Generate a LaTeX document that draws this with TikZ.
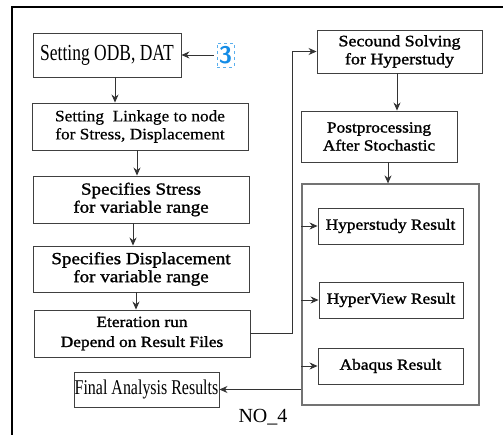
\documentclass[tikz,border=0pt]{standalone}
\usepackage{fontspec}
\setmainfont{Liberation Serif}
\newfontfamily\narrowfont[FakeStretch=0.76]{Liberation Serif}
\newfontfamily\widefont[FakeStretch=1.12,FakeBold=1.4]{Liberation Serif}
\newfontfamily\wideregfont[FakeStretch=1.08,FakeBold=0.5]{Liberation Serif}
\usetikzlibrary{arrows.meta}
\definecolor{tagblue}{RGB}{20,140,230}
\tikzset{
  box/.style={draw=black!75, line width=0.9pt, fill=white, align=center, inner sep=0pt},
  arr/.style={draw=black!80, line width=0.8pt, -{Stealth[length=8pt,width=7pt]}},
}

\begin{document}
\begin{tikzpicture}[x=1pt,y=-1pt]
    \useasboundingbox (0,0) rectangle (503,435);
    \draw[line width=1.5pt] (12,435) -- (12,7) -- (503,7);

    \node[box, minimum width=148, minimum height=44, font=\narrowfont\fontsize{23}{26}\selectfont] (A) at (107,55) {Setting ODB, DAT};
    \node[draw=tagblue!70, dashed, line width=0.8pt, text=tagblue, minimum width=17, minimum height=24, inner sep=0pt, font=\sffamily\bfseries\fontsize{24}{24}\selectfont] (tag) at (225.5,55) {3};
    \node[box, minimum width=216, minimum height=47, font=\wideregfont\fontsize{16}{18}\selectfont] (B) at (140,126.5) {Setting\ \ Linkage to node\\for Stress, Displacement};
    \node[box, minimum width=216, minimum height=47, font=\widefont\fontsize{17}{18}\selectfont] (C) at (141,199.5) {Specifies Stress\\for variable range};
    \node[box, minimum width=216, minimum height=46, font=\widefont\fontsize{17}{18}\selectfont] (D) at (141,269) {Specifies Displacement\\for variable range};
    \node[box, minimum width=216, minimum height=47, font=\widefont\fontsize{15.5}{20}\selectfont] (E) at (142,333.5) {Eteration run\\Depend on Result Files};
    \node[box, minimum width=145, minimum height=35, font=\narrowfont\fontsize{21}{24}\selectfont] (F) at (146.5,389.5) {Final Analysis Results};

    \node[box, minimum width=165, minimum height=43, font=\widefont\fontsize{16}{18}\selectfont] (G) at (399.5,51.5) {Secound Solving\\for Hyperstudy};
    \node[box, minimum width=156, minimum height=51, font=\widefont\fontsize{15.5}{18}\selectfont] (H) at (379,136.5) {Postprocessing\\After Stochastic};
    \node[draw=black!55, line width=1.2pt, minimum width=177, minimum height=221] (big) at (390.5,294.5) {};
    \node[box, minimum width=145, minimum height=36, font=\widefont\fontsize{15.5}{18}\selectfont] (R1) at (390.5,226) {Hyperstudy Result};
    \node[box, minimum width=144, minimum height=36, font=\widefont\fontsize{15.5}{18}\selectfont] (R2) at (391,300) {HyperView Result};
    \node[box, minimum width=145, minimum height=36, font=\widefont\fontsize{15.5}{18}\selectfont] (R3) at (390.5,366) {Abaqus Result};

    \node[font=\fontsize{20}{22}\selectfont] (no) at (263,417) {NO\_4};

    \draw[arr, shorten <=3pt] (tag.west) -- (tag.west -| A.east);
    \draw[arr] ([xshift=8pt]A.south) -- ([xshift=-25pt]B.north);
    \draw[arr] ([xshift=-3pt]B.south) -- ([xshift=-4pt]C.north);
    \draw[arr] ([xshift=-8pt]C.south) -- ([xshift=-8pt]D.north);
    \draw[arr] ([xshift=-5pt]D.south) -- ([xshift=-6pt]E.north);
    \draw[arr] (E.east) -- ++(42,0) |- (G.west);
    \draw[arr] ([xshift=-2.5pt]G.south) -- ([xshift=18pt]H.north);
    \draw[arr] ([xshift=9pt]H.south) -- ([xshift=-2.5pt]big.north);
    \draw[arr] (big.west |- F.east) -- (F.east);
    \draw[arr] (big.west |- R1.west) -- (R1.west);
    \draw[arr] (big.west |- R2.west) -- (R2.west);
    \draw[arr] (big.west |- R3.west) -- (R3.west);
  \end{tikzpicture}
\end{document}
